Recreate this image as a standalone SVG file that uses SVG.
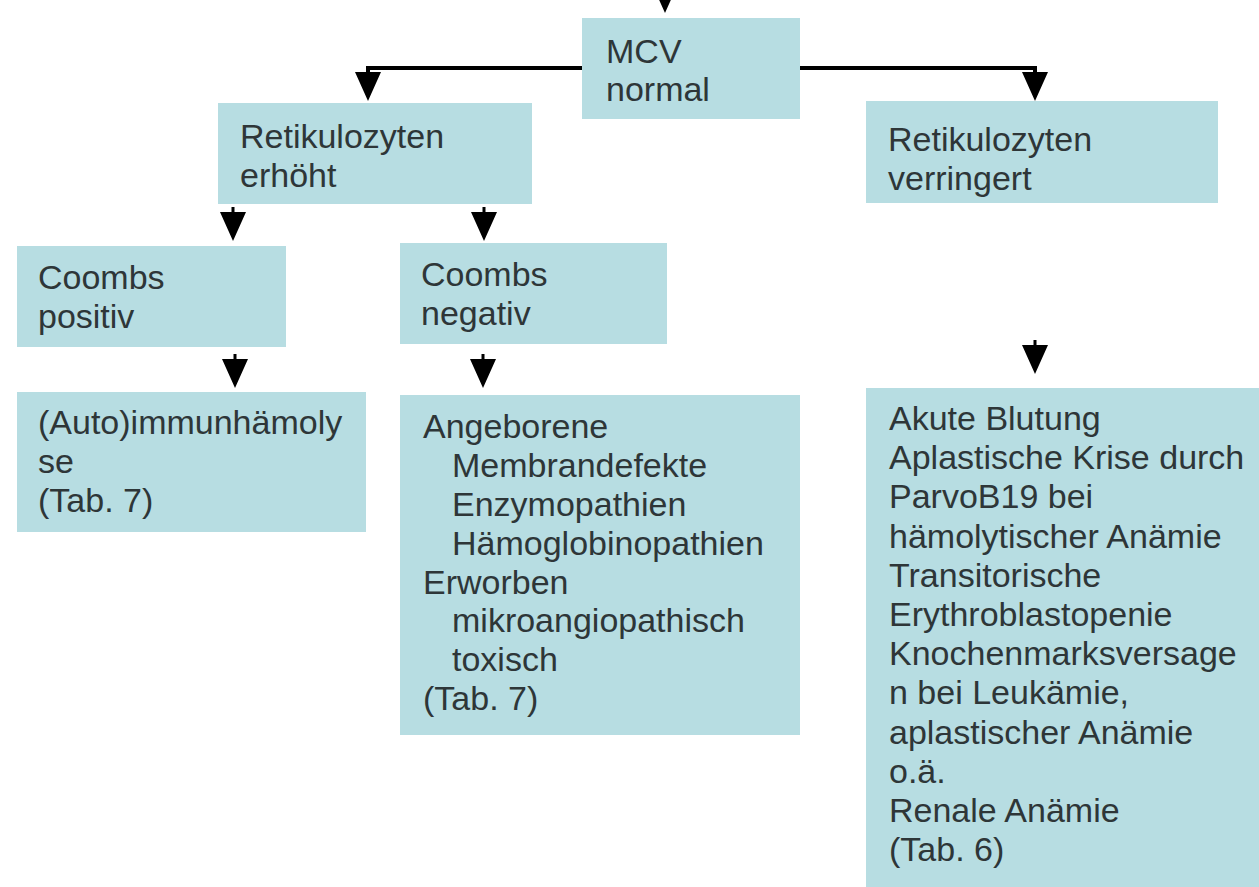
<svg xmlns="http://www.w3.org/2000/svg" xmlns:xlink="http://www.w3.org/1999/xlink" width="1259" height="887" viewBox="0 0 1259 887">
  <style>
    .box { fill: #b7dde2; }
    .t { font-family: "Liberation Sans", Arial, sans-serif; font-size: 34px; fill: #2e3638; }
    .conn { stroke: #000; stroke-width: 4; fill: none; }
  </style>
  <defs>
    <path id="ah" d="M-1.5,-34 L1.5,-34 L1.5,-29 L13,-29 L0,0 L-13,-29 L-1.5,-29 Z" fill="#000"/>
  </defs>
  <rect width="1259" height="887" fill="#fff"/>

  <g id="connectors">
    <use xlink:href="#ah" x="665" y="13"/>
    <path class="conn" d="M582,68 H368 V74"/>
    <path class="conn" d="M800,68 H1035 V74"/>
    <use xlink:href="#ah" x="368" y="101"/>
    <use xlink:href="#ah" x="1035" y="101"/>
    <use xlink:href="#ah" x="233" y="241"/>
    <use xlink:href="#ah" x="484" y="241"/>
    <use xlink:href="#ah" x="235" y="388"/>
    <use xlink:href="#ah" x="483" y="388"/>
    <use xlink:href="#ah" x="1035" y="374"/>
  </g>

  <g id="mcv-normal">
    <rect class="box" x="582" y="18" width="218" height="101"/>
    <text class="t"><tspan x="606" y="63">MCV</tspan><tspan x="606" y="101">normal</tspan></text>
  </g>

  <g id="retikulozyten-erhoeht">
    <rect class="box" x="218" y="103" width="314" height="101"/>
    <text class="t"><tspan x="240" y="148">Retikulozyten</tspan><tspan x="240" y="187">erhöht</tspan></text>
  </g>

  <g id="retikulozyten-verringert">
    <rect class="box" x="866" y="101" width="352" height="102"/>
    <text class="t"><tspan x="888" y="151">Retikulozyten</tspan><tspan x="888" y="190">verringert</tspan></text>
  </g>

  <g id="coombs-positiv">
    <rect class="box" x="17" y="246" width="269" height="101"/>
    <text class="t"><tspan x="38" y="289">Coombs</tspan><tspan x="38" y="328">positiv</tspan></text>
  </g>

  <g id="coombs-negativ">
    <rect class="box" x="400" y="243" width="267" height="101"/>
    <text class="t"><tspan x="421" y="286">Coombs</tspan><tspan x="421" y="325">negativ</tspan></text>
  </g>

  <g id="autoimmunhaemolyse">
    <rect class="box" x="17" y="392" width="349" height="140"/>
    <text class="t"><tspan x="38" y="434">(Auto)immunhämoly</tspan><tspan x="38" y="473">se</tspan><tspan x="38" y="512">(Tab. 7)</tspan></text>
  </g>

  <g id="coombs-negativ-ursachen">
    <rect class="box" x="400" y="395" width="400" height="340"/>
    <text class="t">
      <tspan x="423" y="438">Angeborene</tspan>
      <tspan x="452" y="477">Membrandefekte</tspan>
      <tspan x="452" y="516">Enzymopathien</tspan>
      <tspan x="452" y="555">Hämoglobinopathien</tspan>
      <tspan x="423" y="594">Erworben</tspan>
      <tspan x="452" y="632">mikroangiopathisch</tspan>
      <tspan x="452" y="671">toxisch</tspan>
      <tspan x="423" y="710">(Tab. 7)</tspan>
    </text>
  </g>

  <g id="retikulozyten-verringert-ursachen">
    <rect class="box" x="866" y="388" width="393" height="499"/>
    <text class="t">
      <tspan x="889" y="430">Akute Blutung</tspan>
      <tspan x="889" y="469">Aplastische Krise durch</tspan>
      <tspan x="889" y="508">ParvoB19 bei</tspan>
      <tspan x="889" y="548">hämolytischer Anämie</tspan>
      <tspan x="889" y="587">Transitorische</tspan>
      <tspan x="889" y="626">Erythroblastopenie</tspan>
      <tspan x="889" y="665">Knochenmarksversage</tspan>
      <tspan x="889" y="704">n bei Leukämie,</tspan>
      <tspan x="889" y="744">aplastischer Anämie</tspan>
      <tspan x="889" y="783">o.ä.</tspan>
      <tspan x="889" y="822">Renale Anämie</tspan>
      <tspan x="889" y="861">(Tab. 6)</tspan>
    </text>
  </g>
</svg>
